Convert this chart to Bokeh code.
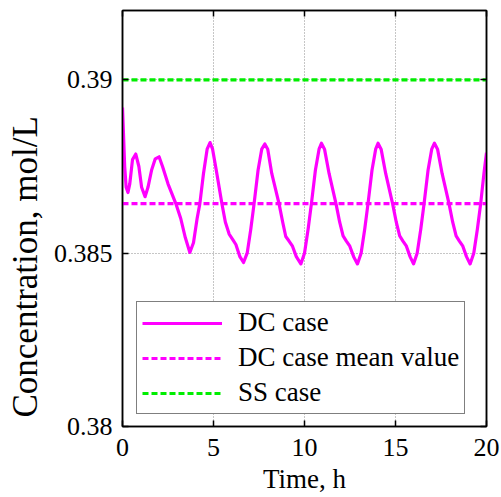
from bokeh.plotting import figure
from bokeh.models import (LinearAxis, Legend, LegendItem, Range1d, FixedTicker, Title,
                          CustomLabelingPolicy)
from bokeh.embed import file_html
from bokeh.resources import INLINE

# Concentration over time for the dynamic (DC) and steady-state (SS) cases
time_h = [
    0.00, 0.05, 0.12, 0.20, 0.30, 0.40, 0.55, 0.73, 0.90, 1.05, 1.24, 1.40,
    1.60, 1.80, 2.01, 2.20, 2.50, 2.93, 3.20, 3.45, 3.70, 3.90, 4.10, 4.25,
    4.45, 4.65, 4.81, 4.95, 5.15, 5.46, 5.65, 5.86, 6.05, 6.23, 6.45, 6.65,
    6.85, 7.05, 7.23, 7.45, 7.65, 7.82, 7.98, 8.20, 8.60, 8.80, 8.97, 9.15,
    9.34, 9.55, 9.80, 10.00, 10.20, 10.38, 10.60, 10.80, 10.93, 11.10, 11.35,
    11.73, 11.93, 12.12, 12.30, 12.49, 12.70, 12.91, 13.11, 13.31, 13.49,
    13.71, 13.91, 14.04, 14.21, 14.46, 14.84, 15.04, 15.23, 15.41, 15.60,
    15.80, 15.99, 16.19, 16.39, 16.57, 16.79, 16.99, 17.14, 17.31, 17.56,
    17.94, 18.14, 18.33, 18.51, 18.70, 18.90, 19.10, 19.30, 19.50, 19.68,
    19.86, 20.00,
]
dc_conc = [
    0.3892, 0.3885, 0.3875, 0.3869, 0.38675, 0.3870, 0.3877, 0.38786, 0.3875,
    0.3869, 0.38663, 0.3869, 0.3874, 0.38772, 0.38778, 0.3875, 0.3870, 0.38643,
    0.3860, 0.38545, 0.38502, 0.3853, 0.3860, 0.38643, 0.3873, 0.3880, 0.38819,
    0.3880, 0.3874, 0.38643, 0.3859, 0.38555, 0.38540, 0.38525, 0.3849, 0.38473,
    0.3850, 0.3857, 0.38643, 0.3874, 0.3880, 0.38815, 0.3880, 0.3873, 0.38643,
    0.3859, 0.38548, 0.38535, 0.38520, 0.3849, 0.38469, 0.3850, 0.3857, 0.38643,
    0.3874, 0.3880, 0.38817, 0.3880, 0.3873, 0.38643, 0.3859, 0.38550, 0.38535,
    0.38520, 0.3849, 0.38469, 0.3850, 0.3857, 0.38643, 0.3874, 0.3880, 0.38817,
    0.3880, 0.3873, 0.38643, 0.3859, 0.38550, 0.38535, 0.38520, 0.3849, 0.38469,
    0.3850, 0.3857, 0.38643, 0.3874, 0.3880, 0.38817, 0.3880, 0.3873, 0.38643,
    0.3859, 0.38550, 0.38535, 0.38520, 0.3849, 0.38469, 0.3850, 0.3857, 0.38643,
    0.3873, 0.38790,
]
mean_time = [0.0, 20.0]
dc_mean = [0.38643, 0.38643]
ss_time = [0.0, 20.0]
ss_conc = [0.3900, 0.3900]

x_ticks = [0, 5, 10, 15, 20]
y_ticks = [0.38, 0.385, 0.39]
y_tick_labels = {0.38: "0.38", 0.385: "0.385", 0.39: "0.39"}

FONT = "serif"

p = figure(
    width=501, height=497,
    x_range=Range1d(0, 20), y_range=Range1d(0.38, 0.392),
    output_backend="svg", toolbar_location=None,
    min_border_left=122, min_border_right=15,
    min_border_top=10, min_border_bottom=71,
    x_axis_label="Time, h",
)
p.background_fill_color = "white"
p.border_fill_color = "white"
p.outline_line_color = "black"
p.outline_line_width = 1.5

# dotted grid at the major ticks
for g in (p.xgrid[0], p.ygrid[0]):
    g.grid_line_color = "#8c8c8c"
    g.grid_line_dash = "1 2"
    g.grid_line_width = 1
p.xgrid[0].ticker = FixedTicker(ticks=x_ticks)
p.ygrid[0].ticker = FixedTicker(ticks=y_ticks)


def style_axis(ax, ticks):
    ax.ticker = FixedTicker(ticks=ticks)
    ax.major_tick_in = 6
    ax.major_tick_out = 0
    ax.minor_tick_in = 0
    ax.minor_tick_out = 0
    ax.axis_line_color = "black"
    ax.axis_line_width = 1.5
    ax.major_tick_line_color = "black"
    ax.major_tick_line_width = 1.5


xa = p.xaxis[0]
style_axis(xa, x_ticks)
xa.major_label_text_font = FONT
xa.major_label_text_font_size = "26px"
xa.major_label_text_color = "black"
xa.axis_label_text_font = FONT
xa.axis_label_text_font_size = "27px"
xa.axis_label_text_font_style = "normal"
xa.axis_label_text_color = "black"
xa.major_label_standoff = 12
xa.axis_label_standoff = 5

ya = p.yaxis[0]
style_axis(ya, y_ticks)
ya.major_label_text_font = FONT
ya.major_label_text_font_size = "26px"
ya.major_label_text_color = "black"
ya.major_label_overrides = y_tick_labels
ya.major_label_standoff = 10

# tick-only axes on the top and right edges (box style frame), no labels
no_labels = CustomLabelingPolicy(code="""
    for (const i of indices)
        indices.unset(i)
    return indices
""")
for side, ticks in (("above", x_ticks), ("right", y_ticks)):
    edge_ax = LinearAxis(major_label_policy=no_labels)
    style_axis(edge_ax, ticks)
    edge_ax.major_label_text_font = FONT
    edge_ax.major_label_text_font_size = "0px"
    edge_ax.major_label_standoff = 0
    p.add_layout(edge_ax, side)

r_dc = p.line(time_h, dc_conc, line_color="#ff00ff", line_width=3.2, line_join="round")
r_mean = p.line(mean_time, dc_mean, line_color="#ff00ff", line_width=3.2, line_dash="6 3")
r_ss = p.line(ss_time, ss_conc, line_color="#00ee00", line_width=3.2, line_dash="6 3")

# vertical axis title, placed in its own side panel
y_title = Title(
    text="Concentration, mol/L", align="left", offset=9,
    vertical_align="top", standoff=8,
    text_font=FONT, text_font_size="35px", text_font_style="normal",
    text_color="black",
)
p.add_layout(y_title, "left")

legend = Legend(items=[
    LegendItem(label="DC case", renderers=[r_dc]),
    LegendItem(label="DC case mean value", renderers=[r_mean]),
    LegendItem(label="SS case", renderers=[r_ss]),
], location=(14, 12))
legend.label_text_font = FONT
legend.label_text_font_size = "27px"
legend.label_text_font_style = "normal"
legend.label_text_color = "black"
legend.glyph_width = 80
legend.glyph_height = 26
legend.label_height = 26
legend.spacing = 4
legend.padding = 5
legend.margin = 0
legend.label_standoff = 16
legend.border_line_color = "black"
legend.border_line_width = 1.5
legend.background_fill_color = "white"
legend.background_fill_alpha = 1
p.add_layout(legend, "center")

open("out.html", "w").write(file_html(p, INLINE))
